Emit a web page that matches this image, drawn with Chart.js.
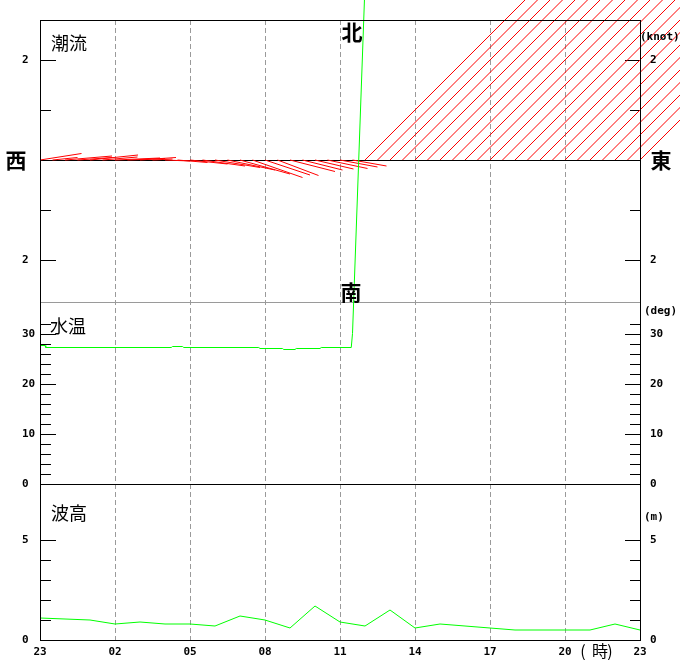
<!DOCTYPE html>
<html><head><meta charset="utf-8">
<script src="https://cdn.jsdelivr.net/npm/chart.js@4/dist/chart.umd.min.js"></script>
<style>html,body{margin:0;padding:0;background:#fff;}#wrap{width:680px;height:660px;}</style>
</head><body><div id="wrap"><canvas id="c" width="680" height="660"></canvas></div>
<script>
// ---- categories (hours after 23:00 of previous day) ----
const hourTicks  = [0, 3, 6, 9, 12, 15, 18, 21, 24];
const hourLabels = ['23', '02', '05', '08', '11', '14', '17', '20', '23'];

// ---- tidal current sticks (every 30 min), east / north components in knots ----
const stickHours = [0,0.5,1,1.5,2,2.5,3,3.5,4,4.5,5,5.5,6,6.5,7,7.5,8,8.5,9,9.5,10,10.5,11,11.5,12,12.5,
                    13,13.5,14,14.5,15,15.5,16,16.5,17,17.5,18,18.5,19,19.5,20,20.5,21,21.5,22,22.5,23,23.5,24];
const curEast  = [0.83,0.5,0.94,0.7,0.96,0.7,0.9,0.75,0.72,0.4,0.5,0.6,0.75,0.85,0.9,0.95,1.0,1.0,0.9,0.82,0.9,0.8,0.77,0.8,0.75,0.68,
                  99.9,99.9,99.9,99.9,99.9,99.9,99.9,99.9,99.9,99.9,99.9,99.9,99.9,99.9,99.9,99.9,99.9,99.9,99.9,99.9,99.9,99.9,99.9];
const curNorth = [0.13,0.05,0.08,0.05,0.1,0.06,0.04,0.03,0.05,0.02,-0.02,-0.05,-0.08,-0.12,-0.15,-0.2,-0.28,-0.35,-0.3,-0.31,-0.23,-0.2,-0.18,-0.17,-0.14,-0.12,
                  99.9,99.9,99.9,99.9,99.9,99.9,99.9,99.9,99.9,99.9,99.9,99.9,99.9,99.9,99.9,99.9,99.9,99.9,99.9,99.9,99.9,99.9,99.9];

// ---- water temperature (deg) ----
const tempHours  = [0, 0.2, 0.23, 5.25, 5.3, 5.7, 5.75, 8.75, 8.8, 9.7, 9.75, 10.2, 10.25, 11.2, 11.25, 12.45, 12.5, 13, 24];
const tempValues = [27.7, 27.7, 27.3, 27.3, 27.5, 27.5, 27.3, 27.3, 27.1, 27.1, 26.9, 26.9, 27.1, 27.1, 27.3, 27.3, 30.1, 99.9, 99.9];

// ---- wave height (m), hourly ----
const waveHours  = [0,1,2,3,4,5,6,7,8,9,10,11,12,13,14,15,16,17,18,19,20,21,22,23,24];
const waveValues = [1.1,1.05,1.0,0.8,0.9,0.8,0.8,0.7,1.2,1.0,0.6,1.7,0.9,0.7,1.5,0.6,0.8,0.7,0.6,0.5,0.5,0.5,0.5,0.8,0.5];

// ---- axis ticks ----
const curTicks   = [-2, -1, 1, 2];
const curMajor   = [-2, 2];
const tempTicks  = [2,4,6,8,10,12,14,16,18,20,22,24,26,28,30,32];
const tempMajor  = [10, 20, 30];
const tempLabels = [0, 10, 20, 30];
const waveTicks  = [1, 2, 3, 4, 5];
const waveMajor  = [5];
const waveLabels = [0, 5];

// axis ranges (each scale spans the whole plot, panels are sub-ranges)
const CUR_MIN = -9.6, CUR_MAX = 2.8;
const TEMP_MIN = -31.2, TEMP_MAX = 92.8, TEMP_TOP = 36.4;
const WAVE_MIN = 0, WAVE_MAX = 31;
// stick east component drawn with same screen length as north: px per knot / px per hour
const KNOT_TO_HOURS = (620 / (CUR_MAX - CUR_MIN)) / (600 / 24);

const stickData = [];
stickHours.forEach((h, i) => {
  stickData.push({x: h, y: 0});
  stickData.push({x: h + curEast[i] * KNOT_TO_HOURS, y: curNorth[i]});
  stickData.push({x: h, y: null});
});
const tempData = tempHours.map((h, i) => ({x: h, y: tempValues[i]}));
const waveData = waveHours.map((h, i) => ({x: h, y: waveValues[i]}));

const MONO = 'bold 11px "DejaVu Sans Mono"';
const CJK = '"Noto Sans CJK JP"';

function hline(ctx, x1, x2, y, color) {
  const yy = Math.round(y) + 0.5;
  ctx.strokeStyle = color; ctx.lineWidth = 1;
  ctx.beginPath(); ctx.moveTo(x1, yy); ctx.lineTo(x2, yy); ctx.stroke();
}

const panelPlugin = {
  id: 'panels',
  beforeDatasetsDraw(chart) {
    const {ctx, chartArea: a, scales} = chart;
    const yc = scales.yCur, yt = scales.yTemp, yw = scales.yWave;
    ctx.save();
    hline(ctx, a.left, a.right, yt.getPixelForValue(TEMP_TOP), '#9a9a9a');
    hline(ctx, a.left, a.right, yc.getPixelForValue(0), '#000');
    hline(ctx, a.left, a.right, yt.getPixelForValue(0), '#000');
    const tickSet = (scale, ticks, major) => {
      ticks.forEach(v => {
        const len = major.includes(v) ? 15 : 10;
        const y = scale.getPixelForValue(v);
        hline(ctx, a.left, a.left + len + 1, y, '#000');
        hline(ctx, a.right - len, a.right, y, '#000');
      });
    };
    tickSet(yc, curTicks, curMajor);
    tickSet(yt, tempTicks, tempMajor);
    tickSet(yw, waveTicks, waveMajor);
    ctx.restore();
  },
  afterDatasetsDraw(chart) {
    const {ctx, chartArea: a, scales} = chart;
    const yc = scales.yCur, yt = scales.yTemp, yw = scales.yWave;
    ctx.save();
    // frame
    ctx.strokeStyle = '#000'; ctx.lineWidth = 1;
    ctx.strokeRect(a.left + 0.5, a.top + 0.5, a.right - a.left, a.bottom - a.top);
    // tick labels
    ctx.fillStyle = '#000';
    ctx.font = MONO; ctx.textBaseline = 'middle'; ctx.textAlign = 'left';
    const lab = (scale, v, txt) => {
      const y = scale.getPixelForValue(v);
      ctx.fillText(txt, 22, y);
      ctx.fillText(txt, 650, y);
    };
    curMajor.forEach(v => lab(yc, v, String(Math.abs(v))));
    tempLabels.forEach(v => lab(yt, v, String(v)));
    waveLabels.forEach(v => lab(yw, v, String(v)));
    ctx.fillText('(knot)', 640, 37);
    ctx.fillText('(deg)', 644, 311);
    ctx.fillText('(m)', 644, 517);
    // panel titles
    ctx.font = '18px ' + CJK;
    ctx.fillText('潮流', 51, 43);
    ctx.fillText('水温', 50, 326);
    ctx.fillText('波高', 51, 513);
    // compass labels
    ctx.font = 'bold 21px ' + CJK; ctx.textAlign = 'center';
    ctx.fillText('北', 352, 32);
    ctx.fillText('南', 351, 292);
    ctx.fillText('西', 16, 160);
    ctx.fillText('東', 661, 160);
    // time unit
    ctx.font = '16px ' + CJK;
    ctx.fillText('(', 583, 651);
    ctx.fillText('時', 600, 651);
    ctx.fillText(')', 610, 651);
    ctx.restore();
  }
};

new Chart(document.getElementById('c'), {
  type: 'line',
  data: {
    datasets: [
      {data: tempData, yAxisID: 'yTemp', borderColor: '#00ff00', borderWidth: 1, pointRadius: 0, clip: false, order: 0},
      {data: waveData, yAxisID: 'yWave', borderColor: '#00ff00', borderWidth: 1, pointRadius: 0, order: 1},
      {data: stickData, yAxisID: 'yCur', borderColor: '#ff0000', borderWidth: 1, pointRadius: 0, clip: false, spanGaps: false, order: 2}
    ]
  },
  options: {
    responsive: false, animation: false, devicePixelRatio: 1,
    layout: {padding: {left: 40, right: 40, top: 20, bottom: 0}},
    plugins: {legend: {display: false}, tooltip: {enabled: false}},
    scales: {
      x: {
        type: 'linear', position: 'bottom', min: 0, max: 24,
        afterBuildTicks: s => { s.ticks = hourTicks.map(v => ({value: v})); },
        afterFit: s => { s.height = 20; },
        ticks: {autoSkip: false, maxRotation: 0, padding: 6, color: '#000',
                font: {family: 'DejaVu Sans Mono', weight: 'bold', size: 11},
                callback: (v, i) => hourLabels[i]},
        grid: {drawTicks: false, lineWidth: 1,
               color: c => (c.tick && (c.tick.value === 0 || c.tick.value === 24)) ? 'rgba(0,0,0,0)' : '#9a9a9a'},
        border: {display: false, dash: [5, 3]}
      },
      yCur:  {type: 'linear', display: false, min: CUR_MIN, max: CUR_MAX},
      yTemp: {type: 'linear', display: false, min: TEMP_MIN, max: TEMP_MAX},
      yWave: {type: 'linear', display: false, min: WAVE_MIN, max: WAVE_MAX}
    }
  },
  plugins: [panelPlugin]
});
</script></body></html>
